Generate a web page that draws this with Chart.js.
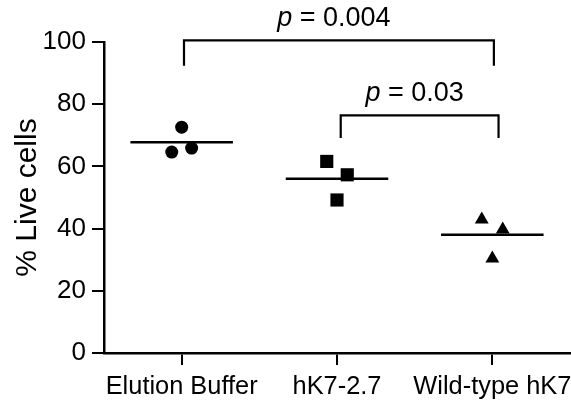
<!DOCTYPE html>
<html>
<head>
<meta charset="utf-8">
<script src="https://cdn.jsdelivr.net/npm/chart.js@4.4.1/dist/chart.umd.min.js"></script>
<style>
  html, body { margin: 0; padding: 0; background: #fff; }
  #wrap { width: 571px; height: 406px; }
</style>
</head>
<body>
<div id="wrap"><canvas id="grafico" width="571" height="406"></canvas></div>
<script>
// grupos no eixo x
const grupos = ['Elution Buffer', 'hK7-2.7', 'Wild-type hK7'];

// % de células vivas (x = posição do grupo com deslocamento)
const elutionX = [1.0, 0.936, 1.064];
const elutionY = [72.6, 64.6, 65.9];
const hk27X = [1.934, 2.066, 2.0];
const hk27Y = [61.6, 57.3, 49.2];
const wildX = [2.932, 3.067, 3.0];
const wildY = [42.9, 39.7, 30.4];

// barra horizontal de cada grupo (média)
const medias = [67.8, 56.0, 38.0];

// ticks do eixo y
const yTicks = [0, 20, 40, 60, 80, 100];

// colchetes de significância
const pValores = ['0.004', '0.03'];
const pDe = [1.015, 2.024];
const pAte = [3.01, 3.04];
const pTopo = [100.5, 76.4];
const pBase = [92.4, 69.1];

const FONTE = '"Liberation Sans", Arial, sans-serif';

const pontos = (xs, ys) => xs.map((v, i) => ({ x: v, y: ys[i] }));

const marcador = (dados, estilo, raio) => ({
    data: dados,
    pointStyle: estilo,
    pointRadius: raio,
    pointBackgroundColor: '#000',
    pointBorderWidth: 0,
    showLine: false
});

// texto "p = ..." acima de cada colchete
const textoP = {
    id: 'textoP',
    afterDatasetsDraw(chart) {
        const { ctx, scales: { x, y } } = chart;
        ctx.save();
        ctx.fillStyle = '#000';
        ctx.textBaseline = 'alphabetic';
        ctx.textAlign = 'left';
        pValores.forEach((v, i) => {
            const cx = x.getPixelForValue((pDe[i] + pAte[i]) / 2) - 5;
            const by = y.getPixelForValue(pTopo[i]) - 14;
            ctx.font = 'italic 27px ' + FONTE;
            const wp = ctx.measureText('p').width;
            ctx.font = '27px ' + FONTE;
            const resto = ' = ' + v;
            const wr = ctx.measureText(resto).width;
            const x0 = cx - (wp + wr) / 2;
            ctx.font = 'italic 27px ' + FONTE;
            ctx.fillText('p', x0, by);
            ctx.font = '27px ' + FONTE;
            ctx.fillText(resto, x0 + wp, by);
        });
        ctx.restore();
    }
};

const semPadding = (s) => { s.paddingLeft = 0; s.paddingRight = 0; s.paddingTop = 0; s.paddingBottom = 0; };

const ctx = document.getElementById('grafico').getContext('2d');
const grafico = new Chart(ctx, {
    type: 'scatter',
    data: {
        datasets: [
            marcador(pontos(elutionX, elutionY), 'circle', 6.5),
            marcador(pontos(hk27X, hk27Y), 'rect', 9.3),
            marcador(pontos(wildX, wildY), 'triangle', 8),
            ...medias.map((m, i) => ({
                data: [{ x: i + 1 - 0.33, y: m }, { x: i + 1 + 0.33, y: m }],
                showLine: true,
                pointRadius: 0,
                borderColor: '#000',
                borderWidth: 2.5
            })),
            ...pValores.map((_, i) => ({
                data: [
                    { x: pDe[i], y: pBase[i] },
                    { x: pDe[i], y: pTopo[i] },
                    { x: pAte[i], y: pTopo[i] },
                    { x: pAte[i], y: pBase[i] }
                ],
                showLine: true,
                pointRadius: 0,
                borderColor: '#000',
                borderWidth: 2.2,
                clip: false
            }))
        ]
    },
    options: {
        responsive: false,
        animation: false,
        layout: { autoPadding: false, padding: { top: 42, right: 1, left: 0, bottom: 0 } },
        plugins: {
            legend: { display: false },
            tooltip: { enabled: false }
        },
        scales: {
            x: {
                type: 'linear',
                min: 0.5,
                max: 3.5,
                afterBuildTicks: (s) => { s.ticks = grupos.map((_, i) => ({ value: i + 1 })); },
                afterFit: (s) => { s.height = 53; semPadding(s); },
                ticks: {
                    callback: (v) => grupos[v - 1],
                    color: '#000',
                    font: { family: FONTE, size: 25.4 },
                    padding: 7,
                    maxRotation: 0,
                    autoSkip: false
                },
                grid: { drawOnChartArea: false, drawTicks: true, tickLength: 12, color: '#000', lineWidth: 2 },
                border: { display: true, color: '#000', width: 2.5 }
            },
            y: {
                min: 0,
                max: 100,
                afterBuildTicks: (s) => { s.ticks = yTicks.map((v) => ({ value: v })); },
                afterFit: (s) => { s.width = 104; semPadding(s); },
                ticks: {
                    color: '#000',
                    font: { family: FONTE, size: 26 },
                    padding: 6
                },
                title: {
                    display: true,
                    text: '% Live cells',
                    color: '#000',
                    font: { family: FONTE, size: 30 },
                    padding: { top: 10, bottom: 0 }
                },
                grid: { drawOnChartArea: false, drawTicks: true, tickLength: 12, color: '#000', lineWidth: 2 },
                border: { display: true, color: '#000', width: 2.5 }
            }
        }
    },
    plugins: [textoP]
});
</script>
</body>
</html>
